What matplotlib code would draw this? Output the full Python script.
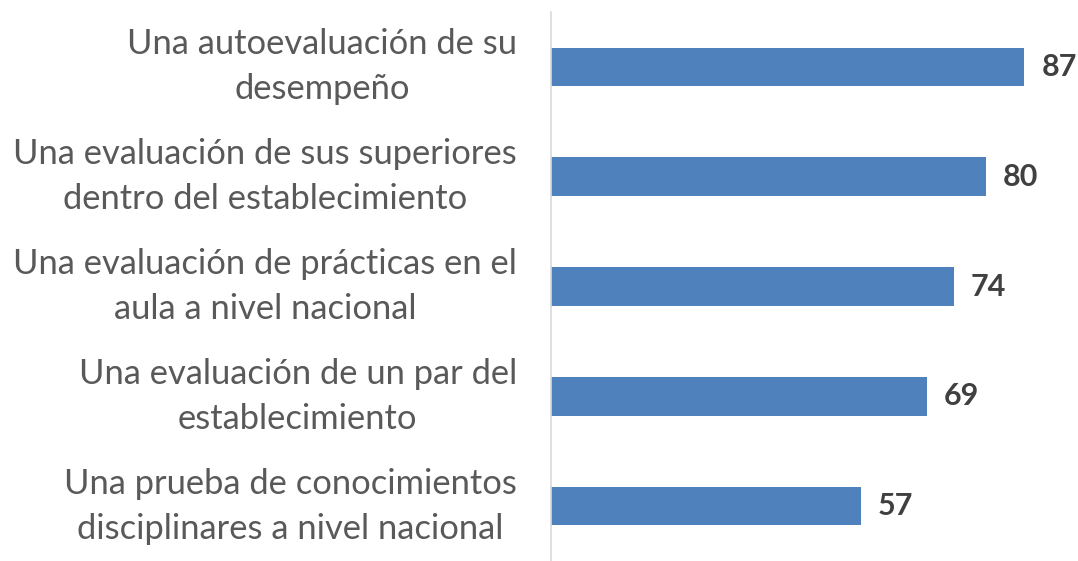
import matplotlib
matplotlib.use("Agg")
import matplotlib.pyplot as plt

# valores (de arriba hacia abajo)
categorias = [
    "Una autoevaluación de su\ndesempeño",
    "Una evaluación de sus superiores\ndentro del establecimiento",
    "Una evaluación de prácticas en el\naula a nivel nacional",
    "Una evaluación de un par del\nestablecimiento",
    "Una prueba de conocimientos\ndisciplinares a nivel nacional",
]
valores = [87, 80, 74, 69, 57]

AZUL = "#4F81BD"
GRIS_TEXTO = "#595959"
GRIS_VALOR = "#404040"

plt.rcParams["font.family"] = ["Lato", "DejaVu Sans"]

fig = plt.figure(figsize=(10.78, 5.61), dpi=100)
ax = fig.add_axes([551 / 1078, 0.0, 517 / 1078, 1 - 12 / 561])

pos = list(range(len(categorias)))
ax.barh(pos, valores, height=0.35, color=AZUL)
ax.set_ylim(len(categorias) - 0.5, -0.5)
ax.set_xlim(0, 95)

ax.set_yticks(pos)
ax.set_yticklabels(categorias, fontsize=24.8, color=GRIS_TEXTO, ha="right",
                   va="center", multialignment="center", linespacing=1.5)
ax.tick_params(axis="y", length=0, pad=24.5)
ax.set_xticks([])

for p, v in zip(pos, valores):
    ax.text(v + 3.1, p, str(v), va="center", ha="left", fontsize=22,
            fontweight="bold", color=GRIS_VALOR)

for s in ["top", "right", "bottom"]:
    ax.spines[s].set_visible(False)
ax.spines["left"].set_color("#D9D9D9")
ax.spines["left"].set_linewidth(1.2)

fig.savefig("out.png", dpi=100)
